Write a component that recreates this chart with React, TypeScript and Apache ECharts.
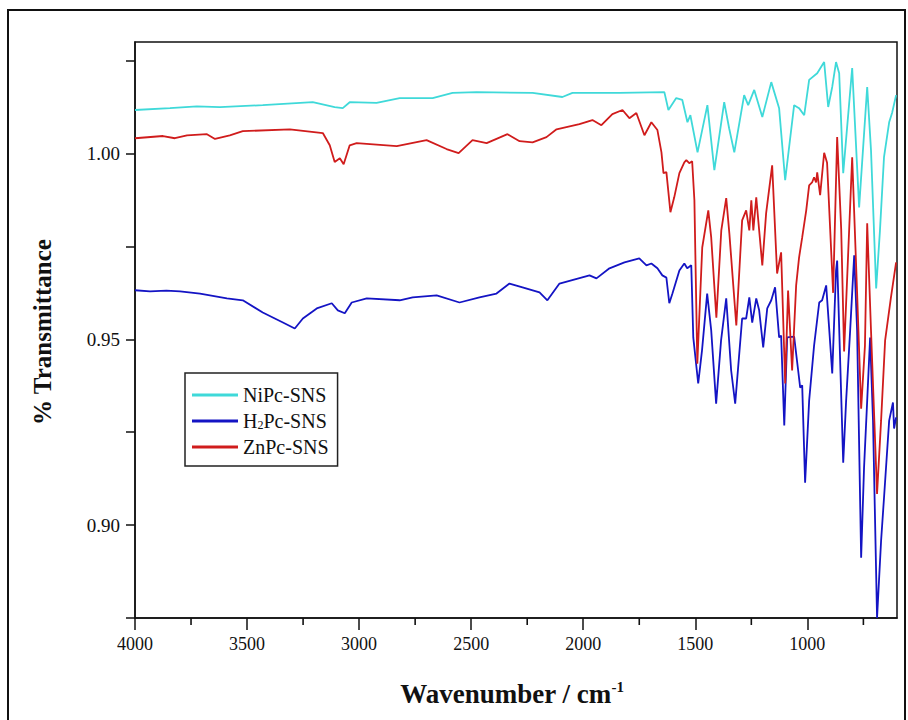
import React, { useEffect, useRef } from 'react';
import * as echarts from 'echarts';

// ---------- data ----------
const seriesNames = ['NiPc-SNS', 'H2Pc-SNS', 'ZnPc-SNS'];
const seriesColors = ['#3fd9d9', '#1414c4', '#d01c1c'];

const xMajorTicks = [4000, 3500, 3000, 2500, 2000, 1500, 1000];
const xMinorTicks = [3750, 3250, 2750, 2250, 1750, 1250, 750];
const yLabelTicks = [0.9, 0.95, 1.0];
const yAllTicks = [0.875, 0.9, 0.925, 0.95, 0.975, 1.0, 1.025];
const X_MIN = 600;
const X_MAX = 4000;
const Y_MIN = 0.875;
const Y_MAX = 1.03;

const niWave = [4000, 3844, 3724, 3621, 3430, 3207, 3109, 3073, 3042, 2922, 2819, 2672, 2583, 2476, 2226, 2093, 2048, 1839, 1638, 1620, 1585, 1558, 1535, 1522, 1490, 1446, 1415, 1371, 1349, 1326, 1282, 1264, 1237, 1201, 1161, 1126, 1099, 1059, 1037, 1014, 992, 956, 925, 907, 889, 872, 858, 840, 800, 769, 733, 716, 693, 676, 658, 635, 622, 604];
const niT = [1.0117, 1.0122, 1.0127, 1.0125, 1.013, 1.0138, 1.0125, 1.0122, 1.0138, 1.0136, 1.0149, 1.0149, 1.0163, 1.0165, 1.0163, 1.0152, 1.0163, 1.0163, 1.0165, 1.0117, 1.0149, 1.0144, 1.0084, 1.0103, 1.0003, 1.013, 0.9955, 1.0138, 1.0068, 1.0003, 1.0157, 1.013, 1.0171, 1.0098, 1.0192, 1.0122, 0.9928, 1.013, 1.0122, 1.0103, 1.0198, 1.0216, 1.0246, 1.0125, 1.0179, 1.0246, 1.0216, 0.9947, 1.023, 0.9855, 1.0179, 1.0009, 0.9637, 0.9793, 0.999, 1.0084, 1.0109, 1.0157];

const h2Wave = [4000, 3933, 3860, 3799, 3710, 3590, 3519, 3430, 3340, 3287, 3251, 3189, 3122, 3095, 3064, 3033, 2966, 2819, 2761, 2654, 2552, 2463, 2387, 2329, 2271, 2195, 2160, 2106, 1972, 1941, 1883, 1816, 1750, 1718, 1696, 1669, 1647, 1629, 1616, 1602, 1571, 1549, 1536, 1518, 1509, 1487, 1470, 1447, 1429, 1407, 1385, 1362, 1340, 1322, 1291, 1273, 1259, 1246, 1228, 1215, 1197, 1179, 1161, 1144, 1126, 1117, 1103, 1090, 1059, 1041, 1032, 1023, 1010, 992, 970, 947, 934, 916, 903, 889, 872, 867, 840, 827, 809, 791, 778, 760, 747, 733, 720, 707, 689, 671, 658, 635, 618, 613, 604];
const h2T = [0.9632, 0.9629, 0.9631, 0.9629, 0.9623, 0.961, 0.9605, 0.9572, 0.9545, 0.9529, 0.9556, 0.9583, 0.9597, 0.9578, 0.957, 0.9599, 0.961, 0.9605, 0.9613, 0.9618, 0.9599, 0.9613, 0.9623, 0.965, 0.964, 0.9626, 0.9605, 0.965, 0.9672, 0.9664, 0.9691, 0.9707, 0.9718, 0.9699, 0.9704, 0.9691, 0.9672, 0.9666, 0.9597, 0.9623, 0.9685, 0.9704, 0.9691, 0.9699, 0.9505, 0.9381, 0.947, 0.9623, 0.9524, 0.9327, 0.9497, 0.961, 0.9416, 0.9327, 0.9556, 0.9556, 0.9613, 0.9545, 0.961, 0.9578, 0.9478, 0.9583, 0.9605, 0.964, 0.9505, 0.951, 0.9268, 0.9505, 0.9507, 0.9416, 0.937, 0.9376, 0.9114, 0.9335, 0.9483, 0.9599, 0.9605, 0.9645, 0.9532, 0.9408, 0.9685, 0.9712, 0.9168, 0.9335, 0.9524, 0.9726, 0.9524, 0.8912, 0.9155, 0.9335, 0.9505, 0.9281, 0.875, 0.8958, 0.9073, 0.9281, 0.933, 0.926, 0.929];

const znWave = [4000, 3875, 3822, 3768, 3679, 3643, 3577, 3519, 3309, 3162, 3131, 3109, 3086, 3069, 3042, 3011, 2832, 2699, 2610, 2556, 2494, 2431, 2338, 2284, 2226, 2164, 2119, 2017, 1959, 1919, 1870, 1825, 1794, 1763, 1727, 1696, 1669, 1651, 1642, 1629, 1611, 1594, 1571, 1549, 1540, 1527, 1514, 1504, 1491, 1469, 1442, 1429, 1406, 1384, 1362, 1348, 1317, 1291, 1273, 1259, 1250, 1241, 1228, 1215, 1201, 1184, 1157, 1135, 1117, 1099, 1086, 1068, 1050, 1037, 1023, 1005, 992, 979, 970, 961, 956, 943, 925, 912, 885, 867, 849, 836, 800, 778, 760, 743, 733, 716, 689, 671, 653, 627, 604];
const znT = [1.0041, 1.0047, 1.0041, 1.0049, 1.0052, 1.0039, 1.0049, 1.006, 1.0065, 1.0055, 1.0022, 0.9977, 0.9987, 0.9971, 1.0022, 1.0028, 1.002, 1.0036, 1.0012, 1.0001, 1.0036, 1.0028, 1.0052, 1.0033, 1.003, 1.0044, 1.0065, 1.0079, 1.009, 1.0076, 1.0106, 1.0117, 1.0095, 1.0109, 1.0049, 1.0084, 1.0063, 1.0003, 0.9947, 0.995, 0.9842, 0.9882, 0.9947, 0.9976, 0.9982, 0.9974, 0.9979, 0.9874, 0.9434, 0.9747, 0.9847, 0.9774, 0.9558, 0.9793, 0.988, 0.9785, 0.9537, 0.982, 0.9847, 0.9793, 0.9874, 0.9793, 0.9882, 0.9793, 0.9699, 0.9839, 0.9968, 0.9677, 0.9734, 0.9381, 0.9631, 0.9416, 0.9645, 0.972, 0.9774, 0.9847, 0.9914, 0.9922, 0.9936, 0.9922, 0.9949, 0.9888, 1.0002, 0.9975, 0.9625, 1.0044, 0.9796, 0.9467, 0.999, 0.9625, 0.9313, 0.9483, 0.9812, 0.9524, 0.9084, 0.9281, 0.9497, 0.9613, 0.9707];

const FONT = '"Liberation Serif", "Times New Roman", serif';

function pairs(w: number[], t: number[]) {
  return w.map((x, i) => [x, t[i]]);
}

export default function App() {
  const ref = useRef<HTMLDivElement>(null);

  useEffect(() => {
    if (!ref.current) return;
    const chart = echarts.init(ref.current, undefined, { renderer: 'svg' });
    const waves = [niWave, h2Wave, znWave];
    const vals = [niT, h2T, znT];

    chart.setOption({
      animation: false,
      backgroundColor: '#fff',
      grid: {
        left: 135,
        top: 42,
        width: 762,
        height: 576,
        show: true,
        borderColor: '#111',
        borderWidth: 1.5,
        containLabel: false,
      },
      xAxis: {
        type: 'value',
        inverse: true,
        position: 'bottom',
        min: X_MIN,
        max: X_MAX,
        splitLine: { show: false },
        axisLine: { show: true, onZero: false, lineStyle: { color: '#111', width: 1.5 } },
        axisTick: { show: true, length: 12, customValues: xMajorTicks, lineStyle: { color: '#111', width: 1.5 } },
        axisLabel: {
          show: true,
          customValues: xMajorTicks,
          margin: 17,
          fontFamily: FONT,
          fontSize: 18,
          color: '#111',
          formatter: (v: number) => String(Math.round(v)),
        },
      },
      yAxis: {
        type: 'value',
        min: Y_MIN,
        max: Y_MAX,
        splitLine: { show: false },
        axisLine: { show: true, onZero: false, lineStyle: { color: '#111', width: 1.5 } },
        axisTick: { show: true, length: 9, customValues: yAllTicks, lineStyle: { color: '#111', width: 1.5 } },
        axisLabel: {
          show: true,
          customValues: yLabelTicks,
          margin: 15,
          fontFamily: FONT,
          fontSize: 19,
          color: '#111',
          formatter: (v: number) => v.toFixed(2),
        },
      },
      legend: {
        orient: 'vertical',
        left: 185,
        top: 373,
        padding: [12, 9, 9, 7],
        itemGap: 6,
        itemWidth: 46,
        itemHeight: 3,
        icon: 'rect',
        borderColor: '#222',
        borderWidth: 1.5,
        backgroundColor: '#fff',
        data: seriesNames,
        formatter: (name: string) =>
          name === 'H2Pc-SNS' ? '{n|H}{s|2}{n|Pc-SNS}' : '{n|' + name + '}',
        textStyle: {
          fontFamily: FONT,
          fontSize: 20,
          lineHeight: 19,
          color: '#111',
          rich: {
            n: { fontFamily: FONT, fontSize: 20, lineHeight: 19, color: '#111' },
            s: { fontFamily: FONT, fontSize: 12, lineHeight: 10, verticalAlign: 'bottom', color: '#111' },
          },
        },
      },
      series: [
        ...seriesNames.map((name, i) => ({
          name,
          type: 'line',
          data: pairs(waves[i], vals[i]),
          showSymbol: false,
          symbol: 'none',
          smooth: false,
          clip: true,
          color: seriesColors[i],
          lineStyle: { color: seriesColors[i], width: 1.8 },
          z: 2 + i,
        })),
        {
          // minor (unlabelled) x ticks, placed through the axis scale
          name: 'minorTicks',
          type: 'scatter',
          silent: true,
          clip: false,
          symbol: 'rect',
          symbolSize: [1.6, 7],
          symbolOffset: [0, 3.5],
          itemStyle: { color: '#111', opacity: 1 },
          data: xMinorTicks.map((w) => [w, Y_MIN]),
          z: 10,
        },
      ],
      graphic: [
        {
          type: 'rect',
          silent: true,
          z: -10,
          shape: { x: 8, y: 10, width: 897, height: 730 },
          style: { fill: 'none', stroke: '#111', lineWidth: 2 },
        },
        {
          type: 'text',
          x: 42,
          y: 332,
          rotation: Math.PI / 2,
          style: {
            text: '% Transmittance',
            fontFamily: FONT,
            fontSize: 25,
            fontWeight: 'bold',
            fill: '#111',
            align: 'center',
            verticalAlign: 'middle',
          },
        },
        {
          type: 'text',
          x: 512,
          y: 694,
          style: {
            text: '{a|Wavenumber / cm}{b|-1}',
            fill: '#111',
            align: 'center',
            verticalAlign: 'middle',
            rich: {
              a: { fontFamily: FONT, fontSize: 27, fontWeight: 'bold', lineHeight: 30, fill: '#111', color: '#111' },
              b: { fontFamily: FONT, fontSize: 15, fontWeight: 'bold', lineHeight: 14, verticalAlign: 'top', fill: '#111', color: '#111' },
            },
          },
        },
      ],
    });

    return () => {
      chart.dispose();
    };
  }, []);

  return (
    <div
      ref={ref}
      style={{ position: 'fixed', left: 0, top: 0, width: 908, height: 720, background: '#fff' }}
    />
  );
}
